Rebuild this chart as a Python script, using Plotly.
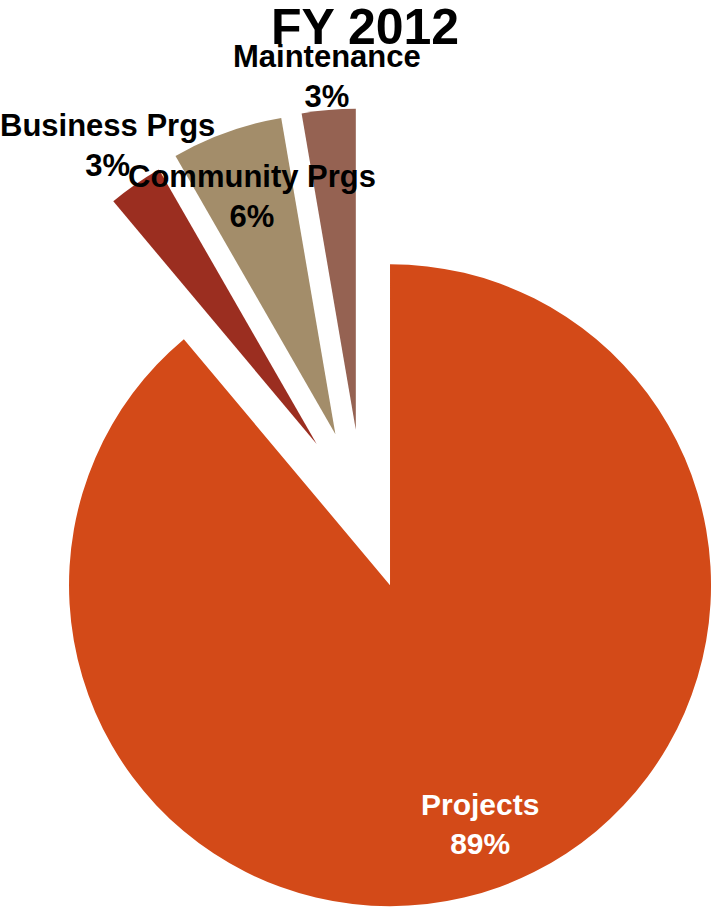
import math
import plotly.graph_objects as go

# Budget shares, FY 2012 (percent of total)
labels = ["Projects", "Business Prgs", "Community Prgs", "Maintenance"]
shares = [88.9, 2.8, 5.6, 2.7]
colors = ["#D34A18", "#9B2E20", "#A38D6A", "#956252"]
text_colors = ["white", "black", "black", "black"]
title_text = "FY 2012"

# Page geometry (pixels)
W, H = 714, 909
CX, CY = 362.6, 509.8      # centre of the un-exploded pie
R = 321                    # pie radius
EXPLODE = 0.25             # every slice pushed out by this fraction of R

# Label block centres (pixels)
label_pos = [(480, 824), (107, 146), (252, 196), (327, 77)]

FONT = "Liberation Sans, Arial, sans-serif"

fig = go.Figure()
total = sum(shares)
cum = 0.0
for i, (lab, val) in enumerate(zip(labels, shares)):
    mid = (cum + val / 2) / total * 360.0
    cum += val
    # exploded slice: its own pie centre shifted along the slice bisector
    px = CX + EXPLODE * R * math.sin(math.radians(mid))
    py = CY - EXPLODE * R * math.cos(math.radians(mid))
    half = min(R, px, W - px, py, H - py)
    slice_colors = ["rgba(0,0,0,0)"] * len(labels)
    slice_colors[i] = colors[i]
    fig.add_trace(go.Pie(
        labels=labels,
        values=shares,
        sort=False,
        direction="clockwise",
        rotation=0,
        marker=dict(colors=slice_colors, line=dict(width=0)),
        textinfo="none",
        hoverinfo="label+percent",
        domain=dict(x=[(px - half) / W, (px + half) / W],
                    y=[(H - (py + half)) / H, (H - (py - half)) / H]),
        showlegend=False,
    ))

annotations = []
for lab, val, (lx, ly), tc in zip(labels, shares, label_pos, text_colors):
    pct = round(val / total * 100)
    annotations.append(dict(
        text=f"<b>{lab}<br>{pct}%</b>",
        x=lx / W, y=1 - ly / H, xref="paper", yref="paper",
        xanchor="center", yanchor="middle", showarrow=False,
        font=dict(family=FONT, size=31 if lab != "Projects" else 30, color=tc),
    ))

annotations.append(dict(
    text=f"<b>{title_text}</b>",
    x=365 / W, y=1 - 27 / H, xref="paper", yref="paper",
    xanchor="center", yanchor="middle", showarrow=False,
    font=dict(family=FONT, size=50, color="black"),
))

fig.update_layout(
    width=W, height=H,
    margin=dict(l=0, r=0, t=0, b=0),
    paper_bgcolor="white",
    plot_bgcolor="white",
    showlegend=False,
    annotations=annotations,
)

fig.write_html("out.html")
